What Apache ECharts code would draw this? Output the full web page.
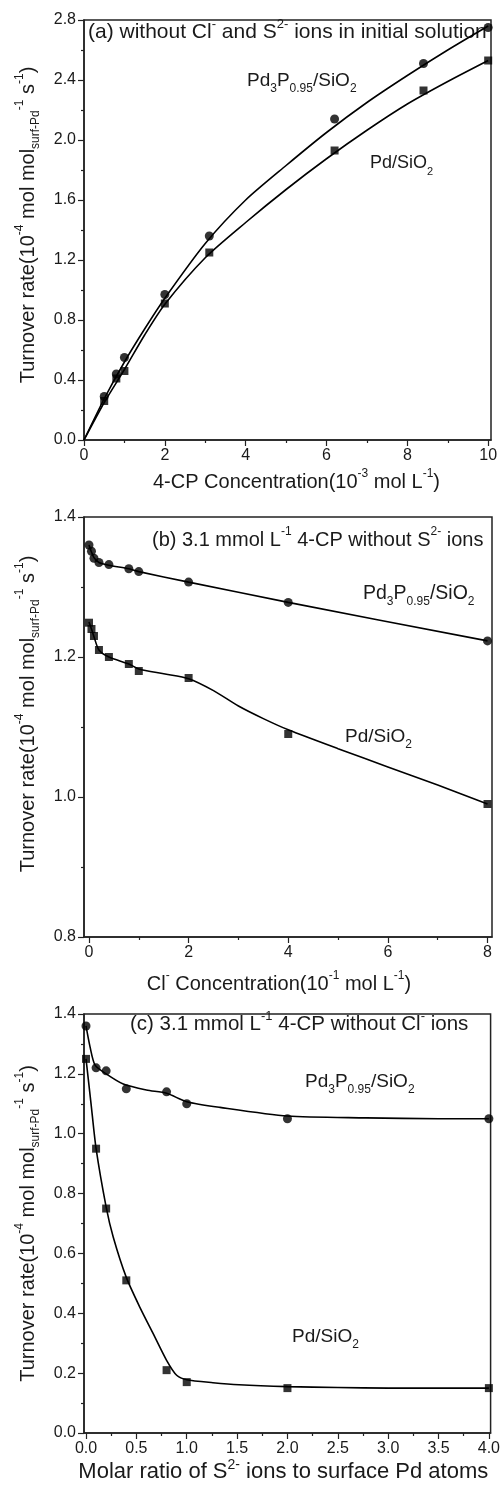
<!DOCTYPE html>
<html>
<head>
<meta charset="utf-8">
<script src="https://cdn.jsdelivr.net/npm/echarts@6/dist/echarts.min.js"></script>
<style>
html,body{margin:0;padding:0;background:#fff;}
#c{width:503px;height:1488px;}
</style>
</head>
<body>
<div id="c"></div>
<script>
// ---------- Panel (a) data ----------
const aConc = [0.5, 0.8, 1.0, 2.0, 3.1, 6.2, 8.4, 10.0];
const aPd3P = [0.29, 0.44, 0.55, 0.97, 1.36, 2.14, 2.51, 2.75];
const aPd = [0.26, 0.41, 0.46, 0.91, 1.25, 1.93, 2.33, 2.53];
const aFitX = [0, 0.5, 1, 1.5, 2, 3, 4, 5, 6, 7, 8, 9, 10];
const aFitPd3P = [0, 0.275, 0.52, 0.74, 0.945, 1.31, 1.60, 1.83, 2.05, 2.25, 2.43, 2.60, 2.76];
const aFitPd = [0, 0.25, 0.47, 0.70, 0.905, 1.215, 1.45, 1.67, 1.875, 2.065, 2.24, 2.39, 2.53];
const aXMajor = [0, 2, 4, 6, 8, 10];
const aXMinor = [1, 3, 5, 7, 9];
const aYMajor = [0, 0.4, 0.8, 1.2, 1.6, 2.0, 2.4, 2.8];
const aYMinor = [0.2, 0.6, 1.0, 1.4, 1.8, 2.2, 2.6];

// ---------- Panel (b) data ----------
const bCl = [0, 0.05, 0.1, 0.2, 0.4, 0.8, 1.0, 2.0, 4.0, 8.0];
const bPd3P = [1.360, 1.351, 1.341, 1.335, 1.332, 1.326, 1.322, 1.307, 1.278, 1.223];
const bPd = [1.249, 1.240, 1.230, 1.210, 1.200, 1.190, 1.180, 1.170, 1.090, 0.990];
const bFitX1 = [0, 0.05, 0.1, 0.2, 0.4, 0.8, 1.0, 2.0, 4.0, 8.0];
const bFitPd3P = [1.360, 1.350, 1.342, 1.335, 1.331, 1.326, 1.322, 1.307, 1.278, 1.223];
const bFitX2 = [0, 0.05, 0.1, 0.2, 0.4, 0.8, 1.0, 1.5, 2.0, 2.5, 3.0, 3.5, 4.0, 5.0, 6.0, 7.0, 8.0];
const bFitPd = [1.250, 1.240, 1.229, 1.210, 1.200, 1.190, 1.183, 1.176, 1.169, 1.152, 1.130, 1.112, 1.096, 1.069, 1.043, 1.017, 0.990];
const bXMajor = [0, 2, 4, 6, 8];
const bXMinor = [1, 3, 5, 7];
const bYMajor = [0.8, 1.0, 1.2, 1.4];
const bYMinor = [0.9, 1.1, 1.3];

// ---------- Panel (c) data ----------
const cRatio = [0, 0.1, 0.2, 0.4, 0.8, 1.0, 2.0, 4.0];
const cPd3P = [1.36, 1.22, 1.21, 1.15, 1.14, 1.10, 1.05, 1.05];
const cPd = [1.25, 0.95, 0.75, 0.51, 0.21, 0.17, 0.15, 0.15];
const cFitX1 = [0, 0.04, 0.09, 0.2, 0.37, 0.6, 0.8, 1.0, 1.33, 2.0, 2.78, 3.5, 4.0];
const cFitPd3P = [1.36, 1.29, 1.229, 1.20, 1.166, 1.146, 1.135, 1.107, 1.088, 1.059, 1.053, 1.05, 1.05];
const cFitX2 = [0, 0.05, 0.1, 0.2, 0.27, 0.4, 0.535, 0.667, 0.8, 0.9, 1.0, 1.26, 1.52, 2.0, 2.5, 3.0, 4.0];
const cFitPd = [1.25, 1.10, 0.95, 0.755, 0.655, 0.52, 0.42, 0.332, 0.243, 0.193, 0.178, 0.168, 0.161, 0.155, 0.152, 0.15, 0.15];
const cXMajor = [0, 0.5, 1.0, 1.5, 2.0, 2.5, 3.0, 3.5, 4.0];
const cXMinor = [0.25, 0.75, 1.25, 1.75, 2.25, 2.75, 3.25, 3.75];
const cYMajor = [0, 0.2, 0.4, 0.6, 0.8, 1.0, 1.2, 1.4];
const cYMinor = [0.1, 0.3, 0.5, 0.7, 0.9, 1.1, 1.3];

// ---------- texts ----------
const yName = 'Turnover rate(10{sup|-4} mol mol{sub|surf-Pd}{sup|-1} s{sup|-1})';
const aXName = '4-CP Concentration(10{sup|-3} mol L{sup|-1})';
const bXName = 'Cl{sup|-} Concentration(10{sup|-1} mol L{sup|-1})';
const cXName = 'Molar ratio of S{sup|2-} ions to surface Pd atoms';
const aTitle = '(a) without Cl{sup|-} and S{sup|2-} ions in initial solution';
const bTitle = '(b) 3.1 mmol L{sup|-1} 4-CP without S{sup|2-} ions';
const cTitle = '(c) 3.1 mmol L{sup|-1} 4-CP without Cl{sup|-} ions';
const lblPd3P = 'Pd{sub|3}P{sub|0.95}/SiO{sub|2}';
const lblPd = 'Pd/SiO{sub|2}';

const FONT = '"Liberation Sans", Arial, Helvetica, sans-serif';
const INK = '#1a1a1a';

function richFor(size) {
  const s = Math.round(size * 0.62);
  return {
    sup: { fontSize: s, fontFamily: FONT, color: INK, lineHeight: 10, verticalAlign: 'top' },
    sub: { fontSize: s, fontFamily: FONT, color: INK, lineHeight: 10, verticalAlign: 'bottom' }
  };
}

const grids = [
  { left: 84, top: 20, width: 407, height: 420 },
  { left: 84, top: 517, width: 408, height: 420 },
  { left: 84, top: 1014, width: 408, height: 419 }
].map(g => Object.assign(g, { show: true, borderColor: '#222', borderWidth: 1.5, backgroundColor: 'transparent' }));

const f0 = v => String(Math.round(v));
const f1 = v => v.toFixed(1);

function axisPair(dim, gi, min, max, majors, minors, fmt, name, nameGap, nameSize, namePad) {
  const isX = dim === 'x';
  const major = {
    type: 'value', gridIndex: gi, min: min, max: max,
    position: isX ? 'bottom' : 'left',
    axisLine: { show: true, onZero: false, lineStyle: { color: '#222', width: 1.5 } },
    axisTick: { show: true, length: 6, customValues: majors, lineStyle: { color: '#222', width: 1.2 } },
    axisLabel: { customValues: majors, formatter: fmt, fontSize: 16, fontFamily: FONT, color: INK, margin: 8 },
    splitLine: { show: false },
    name: name, nameLocation: 'middle', nameGap: nameGap,
    nameRotate: isX ? 0 : 90,
    nameTextStyle: { fontSize: nameSize, fontFamily: FONT, color: INK, lineHeight: 28, padding: namePad, rich: richFor(nameSize) }
  };
  const minor = {
    type: 'value', gridIndex: gi, min: min, max: max,
    position: isX ? 'bottom' : 'left',
    axisLine: { show: false, onZero: false },
    axisTick: { show: true, length: 3, customValues: minors, lineStyle: { color: '#222', width: 1.2 } },
    axisLabel: { show: false },
    splitLine: { show: false }
  };
  return [major, minor];
}

const xAxes = [].concat(
  axisPair('x', 0, 0, 10.07, aXMajor, aXMinor, f0, aXName, 28, 20, [0, 0, 0, 18]),
  axisPair('x', 1, -0.1, 8.09, bXMajor, bXMinor, f0, bXName, 33, 20, [0, 18, 0, 0]),
  axisPair('x', 2, -0.02, 4.017, cXMajor, cXMinor, f1, cXName, 20, 22, [0, 8, 0, 0])
);
const yAxes = [].concat(
  axisPair('y', 0, 0, 2.8, aYMajor, aYMinor, f1, yName, 42, 20, [0, 0, 0, 10]),
  axisPair('y', 1, 0.8, 1.4, bYMajor, bYMinor, f1, yName, 42, 20, [0, 0, 0, 26]),
  axisPair('y', 2, 0, 1.4, cYMajor, cYMinor, f1, yName, 42, 20, [0, 0, 0, 0])
);

function zip(xs, ys) { return xs.map((x, i) => [x, ys[i]]); }

function pts(gi, xs, ys, symbol, size) {
  return {
    type: 'scatter', xAxisIndex: gi * 2, yAxisIndex: gi * 2,
    data: zip(xs, ys), symbol: symbol, symbolSize: size,
    itemStyle: { color: '#000' }, z: 3, silent: true
  };
}
function fit(gi, xs, ys) {
  return {
    type: 'line', xAxisIndex: gi * 2, yAxisIndex: gi * 2,
    data: zip(xs, ys), showSymbol: false, smooth: 0.25,
    lineStyle: { color: '#000', width: 1.6 }, z: 2, silent: true
  };
}

const series = [
  fit(0, aFitX, aFitPd3P), fit(0, aFitX, aFitPd),
  pts(0, aConc, aPd3P, 'circle', 9), pts(0, aConc, aPd, 'rect', 8),
  fit(1, bFitX1, bFitPd3P), fit(1, bFitX2, bFitPd),
  pts(1, bCl, bPd3P, 'circle', 9), pts(1, bCl, bPd, 'rect', 8),
  fit(2, cFitX1, cFitPd3P), fit(2, cFitX2, cFitPd),
  pts(2, cRatio, cPd3P, 'circle', 9), pts(2, cRatio, cPd, 'rect', 8)
];

function label(text, x, y, size) {
  return {
    type: 'text', x: x, y: y, silent: true,
    style: {
      text: text, fill: INK, fontSize: size, fontFamily: FONT,
      lineHeight: 28, align: 'left', verticalAlign: 'middle', rich: richFor(size)
    }
  };
}

const graphic = [
  label(aTitle, 88, 32, 21),
  label(lblPd3P, 247, 81, 19),
  label(lblPd, 370, 163, 18),
  label(bTitle, 152, 540, 20),
  label(lblPd3P, 363, 594, 19.5),
  label(lblPd, 345, 737, 19),
  label(cTitle, 130, 1024, 20.5),
  label(lblPd3P, 305, 1082, 19),
  label(lblPd, 292, 1337, 19)
];

const chart = echarts.init(document.getElementById('c'), null, { renderer: 'canvas' });
chart.setOption({
  animation: false,
  backgroundColor: '#fff',
  grid: grids,
  xAxis: xAxes,
  yAxis: yAxes,
  series: series,
  graphic: graphic
});
</script>
</body>
</html>
